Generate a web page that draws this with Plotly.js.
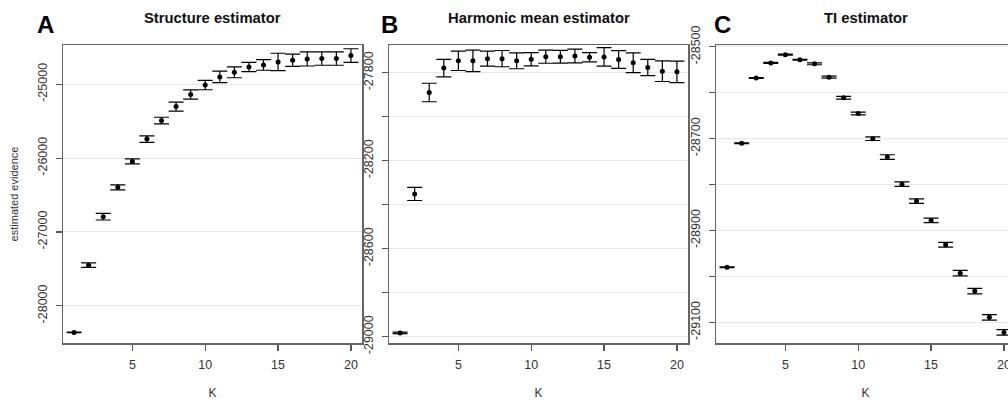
<!DOCTYPE html>
<html>
<head>
<meta charset="utf-8">
<script src="https://cdn.plot.ly/plotly-3.0.1.min.js"></script>
<style>
html, body { margin: 0; padding: 0; overflow: hidden; background: #fff; }
#chart { width: 1020px; height: 402px; }
</style>
</head>
<body>
<div id="chart"></div>
<script>
// ---- data ----
const K = [1,2,3,4,5,6,7,8,9,10,11,12,13,14,15,16,17,18,19,20];

const structureMean = [-28360,-27449,-26793,-26396,-26045,-25743,-25492,-25302,-25140,-25012,
                       -24901,-24838,-24766,-24739,-24698,-24676,-24658,-24653,-24653,-24612];
const structureErr  = [3,30,45,34,34,45,45,61,63,63,77,74,63,72,117,83,95,90,90,92];

const harmonicMean  = [-28983,-28351,-27890,-27779,-27746,-27746,-27736,-27736,-27746,-27739,
                       -27727,-27727,-27724,-27730,-27728,-27740,-27755,-27776,-27793,-27796];
const harmonicErr   = [3,30,42,40,44,49,34,37,36,30,30,29,31,21,42,40,45,37,47,49];

const tiMean = [-28980,-28710,-28568,-28535,-28517,-28528,-28537,-28566,-28611,-28645,
                -28700,-28740,-28799,-28836,-28878,-28931,-28993,-29032,-29089,-29122];
const tiErr  = [1,1,1,1,1,1,2,2,3,3,4,5,5,5,5,5,6,6,6,6];

const xTickVals = [5,10,15,20];
const xTickText = ['5','10','15','20'];

const structureTickVals = [-28000,-27000,-26000,-25000];
const structureTickText = ['-28000','-27000','-26000','-25000'];
const harmonicTickVals  = [-29000,-28800,-28600,-28400,-28200,-28000,-27800];
const harmonicTickText  = ['-29000','','-28600','','-28200','','-27800'];
const tiTickVals = [-29100,-29000,-28900,-28800,-28700,-28600,-28500];
const tiTickText = ['-29100','','-28900','','-28700','','-28500'];

const panelTitles  = ['Structure estimator','Harmonic mean estimator','TI estimator'];
const panelLetters = ['A','B','C'];

// ---- layout helpers ----
const W = 1020, H = 402;
const FONT = '"Liberation Sans", Arial, Helvetica, sans-serif';
const plotTop = 45, plotBottom = 343;
const panelsPx = [[63,362],[389,688],[716,1015]];
const yRanges = [[-28503,-24469],[-29029,-27674],[-29145,-28496]];
const yDom = [(H - plotBottom)/H, (H - plotTop)/H];

function trace(mean, err, i) {
  return {
    x: K, y: mean, type: 'scatter', mode: 'markers',
    xaxis: i === 0 ? 'x' : 'x' + (i+1),
    yaxis: i === 0 ? 'y' : 'y' + (i+1),
    marker: {color: '#000', size: 5},
    error_y: {type: 'data', array: err, visible: true, color: '#000', thickness: 1.2, width: 7.5},
    hoverinfo: 'x+y', showlegend: false
  };
}

function xAxis(i) {
  return {
    domain: [panelsPx[i][0]/W, panelsPx[i][1]/W],
    range: [0.24, 20.76],
    anchor: i === 0 ? 'y' : 'y' + (i+1),
    tickmode: 'array', tickvals: xTickVals, ticktext: xTickText,
    ticks: 'outside', ticklen: 6, tickwidth: 1.2, tickcolor: '#555',
    ticklabelstandoff: 3,
    showline: true, linecolor: '#666', linewidth: 1.5, mirror: true,
    showgrid: false, zeroline: false,
    tickfont: {family: FONT, size: 12.5, color: '#333'},
    title: {text: 'K', standoff: 18, font: {family: FONT, size: 12, color: '#333'}}
  };
}

function yAxis(i, vals, text) {
  const ax = {
    domain: yDom,
    range: yRanges[i],
    anchor: i === 0 ? 'x' : 'x' + (i+1),
    tickmode: 'array', tickvals: vals, ticktext: text,
    tickangle: -90,
    ticks: 'outside', ticklen: 6, tickwidth: 1.2, tickcolor: '#555',
    ticklabelstandoff: 4,
    showline: true, linecolor: '#666', linewidth: 1.5, mirror: true,
    showgrid: true, gridcolor: '#e8e8e8', gridwidth: 1, zeroline: false,
    tickfont: {family: FONT, size: 12.5, color: '#333'}
  };
  if (i === 0) ax.title = {text: 'estimated evidence', standoff: 14, font: {family: FONT, size: 11, color: '#333'}};
  return ax;
}

const data = [
  trace(structureMean, structureErr, 0),
  trace(harmonicMean, harmonicErr, 1),
  trace(tiMean, tiErr, 2)
];

const annotations = [];
panelTitles.forEach((t, i) => {
  annotations.push({
    text: '<b>' + t + '</b>', xref: 'paper', yref: 'paper',
    x: (panelsPx[i][0] + panelsPx[i][1]) / 2 / W, y: 1 - 17.5 / H,
    xanchor: 'center', yanchor: 'middle', showarrow: false,
    font: {family: FONT, size: 14.8, color: '#111'}
  });
});
const letterX = [45, 389.5, 722];
panelLetters.forEach((t, i) => {
  annotations.push({
    text: '<b>' + t + '</b>', xref: 'paper', yref: 'paper',
    x: letterX[i] / W, y: 1 - 24.5 / H,
    xanchor: 'center', yanchor: 'middle', showarrow: false,
    font: {family: FONT, size: 24, color: '#000'}
  });
});

const layout = {
  width: W, height: H,
  margin: {l: 0, r: 0, t: 0, b: 0, pad: 0},
  paper_bgcolor: '#fff', plot_bgcolor: '#fff',
  font: {family: FONT},
  showlegend: false,
  xaxis: xAxis(0), xaxis2: xAxis(1), xaxis3: xAxis(2),
  yaxis: yAxis(0, structureTickVals, structureTickText),
  yaxis2: yAxis(1, harmonicTickVals, harmonicTickText),
  yaxis3: yAxis(2, tiTickVals, tiTickText),
  annotations: annotations
};

Plotly.newPlot('chart', data, layout, {displayModeBar: false, staticPlot: true});
</script>
</body>
</html>
